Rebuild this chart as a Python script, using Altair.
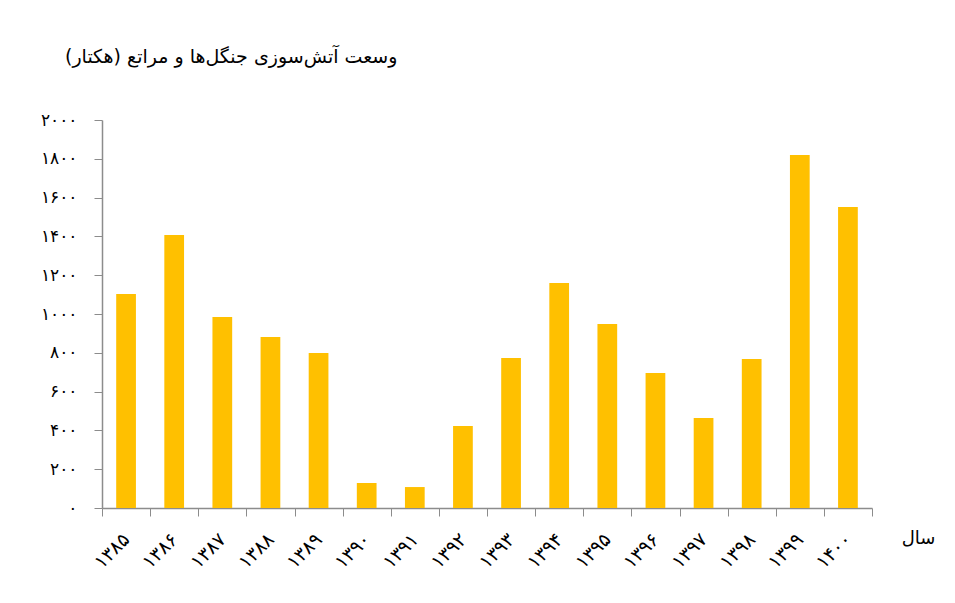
import altair as alt
import pandas as pd

years = ["۱۳۸۵", "۱۳۸۶", "۱۳۸۷", "۱۳۸۸", "۱۳۸۹", "۱۳۹۰", "۱۳۹۱", "۱۳۹۲",
         "۱۳۹۳", "۱۳۹۴", "۱۳۹۵", "۱۳۹۶", "۱۳۹۷", "۱۳۹۸", "۱۳۹۹", "۱۴۰۰"]
area = [1103, 1407, 985, 881, 799, 129, 108, 423,
        773, 1160, 949, 696, 464, 768, 1820, 1552]
y_ticks = [0, 200, 400, 600, 800, 1000, 1200, 1400, 1600, 1800, 2000]
title_text = "وسعت آتش\u200cسوزی جنگل\u200cها و مراتع (هکتار)"
x_title = "سال"

df = pd.DataFrame({"year": years, "area": area})

persian = "۰۱۲۳۴۵۶۷۸۹"
expr = "datum.label"
for d in range(10):
    expr = f"replace({expr}, regexp('{d}', 'g'), '{persian[d]}')"

FONT = "DejaVu Sans"
AXIS_COLOR = "#8c8c8c"

chart = alt.Chart(df).mark_bar(color="#FFC000", width=alt.RelativeBandSize(0.41)).encode(
    x=alt.X("year:N", sort=years,
            scale=alt.Scale(paddingInner=0, paddingOuter=0),
            axis=alt.Axis(title=x_title, labelAngle=-45, labelAlign="right",
                          labelBaseline="middle", labelPadding=20,
                          labelFontSize=19, labelColor="black", labelFont=FONT,
                          tickBand="extent", tickSize=8, tickColor=AXIS_COLOR,
                          domainColor=AXIS_COLOR, domainWidth=1.5, tickWidth=1,
                          titleFont=FONT, titleFontSize=18, titleFontWeight="normal",
                          titleColor="black", titleX=816, titleY=30,
                          titleAlign="center", titleBaseline="middle")),
    y=alt.Y("area:Q", scale=alt.Scale(domain=[0, 2000], nice=False),
            axis=alt.Axis(title=None, values=y_ticks, format="d", labelExpr=expr,
                          labelFontSize=17, labelColor="black", labelFont=FONT,
                          labelPadding=17, tickSize=8, tickColor=AXIS_COLOR,
                          domainColor=AXIS_COLOR, domainWidth=1.5, grid=False)),
).properties(
    width=770, height=388,
    title=alt.TitleParams(title_text, anchor="start", frame="group", dx=-37, offset=44,
                          font=FONT, fontSize=19, fontWeight="normal", color="black"),
    autosize=alt.AutoSizeParams(type="none"),
    padding={"left": 94, "top": 112, "right": 75, "bottom": 85},
).configure_view(stroke=None)

chart.save("out.html", embed_options={"renderer": "svg", "actions": False})
